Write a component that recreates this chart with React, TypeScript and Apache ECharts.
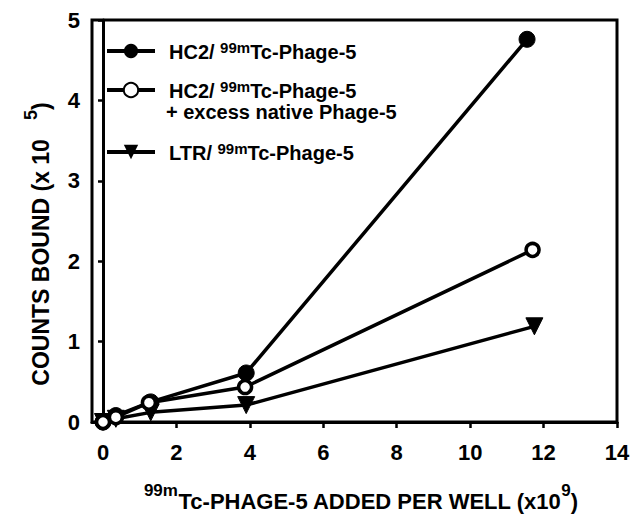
import React, { useEffect, useRef } from 'react';
import * as echarts from 'echarts';

const seriesNames = [
  'HC2/99mTc-Phage-5',
  'HC2/99mTc-Phage-5 + excess native Phage-5',
  'LTR/99mTc-Phage-5',
];
const xHc2 = [0, 0.35, 1.3, 3.9, 11.55];
const yHc2 = [0, 0.08, 0.25, 0.61, 4.76];
const xHc2Excess = [0, 0.35, 1.25, 3.87, 11.7];
const yHc2Excess = [0, 0.06, 0.24, 0.435, 2.14];
const xLtr = [0, 0.35, 1.3, 3.9, 11.75];
const yLtr = [0, 0.04, 0.12, 0.21, 1.19];
const xTicks = [0, 2, 4, 6, 8, 10, 12, 14];

const FONT = "'Liberation Sans', Arial, sans-serif";

const richLegend = {
  n0: { fontFamily: FONT, fontWeight: 'bold', fontSize: 20, color: '#000', padding: [0, 0, 0, 9], verticalAlign: 'bottom', lineHeight: 22 },
  n: { fontFamily: FONT, fontWeight: 'bold', fontSize: 20, color: '#000', verticalAlign: 'bottom', lineHeight: 22 },
  s: { fontFamily: FONT, fontWeight: 'bold', fontSize: 15, color: '#000', verticalAlign: 'top', lineHeight: 8 },
};

function pairs(xs: number[], ys: number[]) {
  return xs.map((x, i) => [x, ys[i]]);
}

function legendLabel(name: string) {
  const [prefix] = name.split('/');
  return `{n0|${prefix}/ }{s|99m}{n|Tc-Phage-5}`;
}

export default function App() {
  const ref = useRef<HTMLDivElement>(null);
  useEffect(() => {
    if (!ref.current) return;
    const chart = echarts.init(ref.current, undefined, { renderer: 'svg' });
    const lineStyle = { color: '#000', width: 3.5 };
    const mkLegend = (name: string, top: number) => ({
      data: [name],
      left: 105,
      top,
      orient: 'vertical',
      itemWidth: 48,
      itemHeight: 18,
      padding: 0,
      formatter: legendLabel,
      textStyle: { rich: richLegend },
      lineStyle: { width: 4 },
      selectedMode: false,
    });
    chart.setOption({
      animation: false,
      backgroundColor: '#fff',
      grid: { left: 92, right: 16, top: 20, bottom: 103, show: true, borderColor: '#000', borderWidth: 3, outerBoundsMode: 'none' },
      legend: [
        mkLegend(seriesNames[0], 40),
        mkLegend(seriesNames[1], 79),
        mkLegend(seriesNames[2], 141),
      ],
      xAxis: {
        type: 'value',
        min: -0.3,
        max: 14,
        splitLine: { show: false },
        axisLine: { onZero: false, lineStyle: { color: '#000', width: 3 } },
        axisTick: { customValues: xTicks, length: 6, lineStyle: { color: '#000', width: 2.5 } },
        axisLabel: { customValues: xTicks, margin: 19, fontFamily: FONT, fontWeight: 'bold', fontSize: 22, color: '#000' },
      },
      yAxis: {
        type: 'value',
        min: 0,
        max: 5,
        interval: 1,
        splitLine: { show: false },
        axisLine: { lineStyle: { color: '#000', width: 3 } },
        axisTick: { length: 5, lineStyle: { color: '#000', width: 2.5 } },
        axisLabel: { margin: 12, fontFamily: FONT, fontWeight: 'bold', fontSize: 22, color: '#000' },
      },
      series: [
        {
          name: seriesNames[0],
          type: 'line',
          data: pairs(xHc2, yHc2),
          symbol: 'circle',
          symbolSize: 16,
          lineStyle,
          itemStyle: { color: '#000', borderColor: '#000' },
          clip: false,
          z: 3,
        },
        {
          name: seriesNames[1],
          type: 'line',
          data: pairs(xHc2Excess, yHc2Excess),
          symbol: 'circle',
          symbolSize: 13,
          lineStyle,
          itemStyle: { color: '#fff', borderColor: '#000', borderWidth: 3.5 },
          clip: false,
          z: 4,
        },
        {
          name: seriesNames[2],
          type: 'line',
          data: pairs(xLtr, yLtr),
          symbol: 'triangle',
          symbolRotate: 180,
          symbolSize: 17,
          lineStyle,
          itemStyle: { color: '#000', borderColor: '#000' },
          clip: false,
          z: 3,
        },
      ],
      graphic: [
        {
          type: 'text',
          left: 166,
          top: 102,
          style: {
            text: '+ excess native Phage-5',
            font: `bold 20px ${FONT}`,
            fill: '#000',
          },
        },
        {
          type: 'text',
          x: 37,
          y: 244,
          rotation: Math.PI / 2,
          style: {
            text: '{n|COUNTS BOUND (x 10   }{s|5}{n|)}',
            align: 'center',
            verticalAlign: 'middle',
            rich: {
              n: { fontFamily: FONT, fontWeight: 'bold', fontSize: 23, fill: '#000', verticalAlign: 'bottom', lineHeight: 30 },
              s: { fontFamily: FONT, fontWeight: 'bold', fontSize: 18, fill: '#000', verticalAlign: 'top', lineHeight: 16 },
            },
          },
        },
        {
          type: 'text',
          x: 361,
          y: 497,
          style: {
            text: '{s|99m}{n|Tc-PHAGE-5 ADDED PER WELL (x10}{s|9}{n|)}',
            align: 'center',
            verticalAlign: 'middle',
            rich: {
              n: { fontFamily: FONT, fontWeight: 'bold', fontSize: 22, fill: '#000', verticalAlign: 'bottom', lineHeight: 30 },
              s: { fontFamily: FONT, fontWeight: 'bold', fontSize: 17, fill: '#000', verticalAlign: 'top', lineHeight: 16 },
            },
          },
        },
      ],
    });
    return () => chart.dispose();
  }, []);
  return <div ref={ref} style={{ position: 'fixed', left: 0, top: 0, width: 633, height: 525 }} />;
}
